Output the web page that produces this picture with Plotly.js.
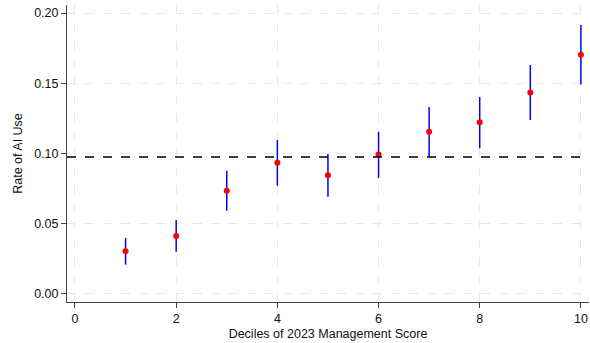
<!DOCTYPE html>
<html>
<head>
<meta charset="utf-8">
<script src="https://cdn.plot.ly/plotly-3.0.1.min.js"></script>
<style>html,body{margin:0;padding:0;background:#fff;}#chart{width:590px;height:343px;}</style>
</head>
<body>
<div id="chart"></div>
<script>
const deciles = [1, 2, 3, 4, 5, 6, 7, 8, 9, 10];
const rates = [0.0304, 0.0413, 0.0735, 0.0935, 0.0845, 0.0992, 0.1155, 0.1222, 0.1435, 0.1703];
const upper = [0.0399, 0.0527, 0.0878, 0.1096, 0.0996, 0.1155, 0.1331, 0.1402, 0.1630, 0.1915];
const lower = [0.0209, 0.0301, 0.0593, 0.0771, 0.0693, 0.0826, 0.0977, 0.1037, 0.1238, 0.1492];
const overallMean = 0.0975;
const xTicks = [0, 2, 4, 6, 8, 10];
const yTicks = [0, 0.05, 0.10, 0.15, 0.20];

const errPlus = upper.map((u, i) => u - rates[i]);
const errMinus = lower.map((l, i) => rates[i] - l);

const trace = {
  x: deciles, y: rates, type: 'scatter', mode: 'markers',
  marker: {color: '#ff0000', size: 6},
  error_y: {type: 'data', symmetric: false, array: errPlus, arrayminus: errMinus,
            color: '#0000ff', thickness: 1.5, width: 0},
  hoverinfo: 'none', showlegend: false
};

const gridStyle = {showgrid: true, gridcolor: '#e8e8e8', griddash: 'dash', gridwidth: 1};
const layout = {
  width: 590, height: 343,
  margin: {l: 67, r: 1, t: 5, b: 41},
  paper_bgcolor: '#ffffff', plot_bgcolor: '#ffffff',
  font: {family: 'Liberation Sans, Arial, sans-serif', size: 12.5, color: '#111'},
  xaxis: Object.assign({
    range: [-0.158, 10.16], tickvals: xTicks, ticktext: xTicks.map(String),
    ticks: 'outside', ticklen: 5, tickcolor: '#444', showline: true, linecolor: '#444', linewidth: 1,
    zeroline: false, tickfont: {size: 12.5},
    title: {text: 'Deciles of 2023 Management Score', font: {size: 12.5}, standoff: 4}
  }, gridStyle),
  yaxis: Object.assign({
    range: [-0.0057, 0.2057], tickvals: yTicks, ticktext: yTicks.map(v => v.toFixed(2)),
    ticks: 'outside', ticklen: 5, tickcolor: '#444', showline: true, linecolor: '#444', linewidth: 1,
    zeroline: false, tickfont: {size: 12.5},
    title: {text: 'Rate of AI Use', font: {size: 12.5}, standoff: 8}
  }, gridStyle),
  shapes: [{type: 'line', xref: 'paper', x0: 0, x1: 1, yref: 'y', y0: overallMean, y1: overallMean,
            line: {color: '#000', width: 1.5, dash: 'dash'}}]
};

Plotly.newPlot('chart', [trace], layout, {displayModeBar: false, staticPlot: true});
</script>
</body>
</html>
